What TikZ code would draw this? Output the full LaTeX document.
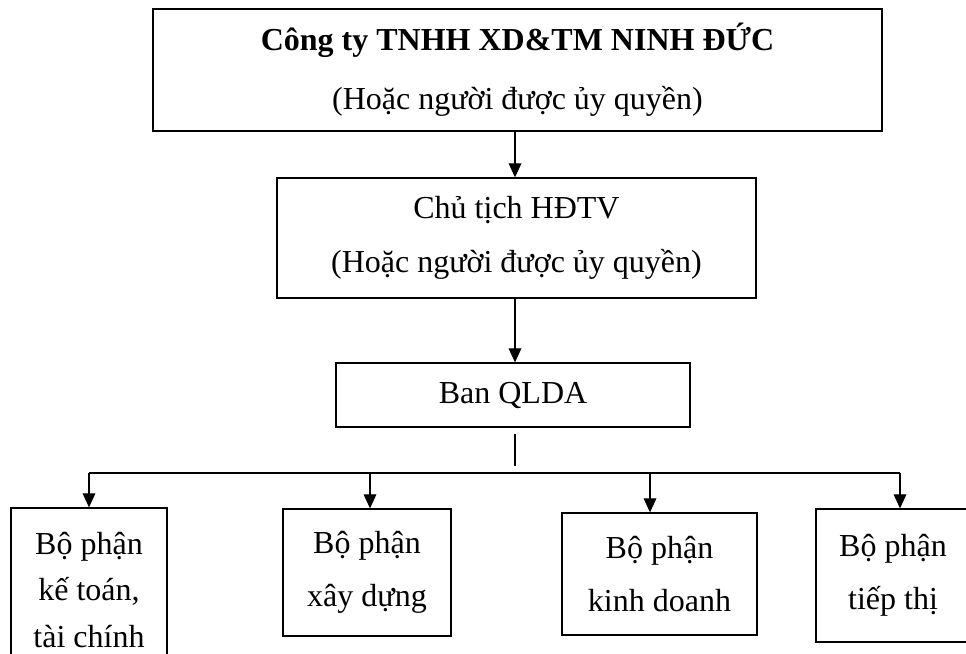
\documentclass[tikz,border=0pt]{standalone}
\usepackage{fontspec}
\setmainfont{Liberation Serif}
\usetikzlibrary{
  arrows.meta,
  calc
}
\tikzset{
  unit/.style={
    draw,
    line width=1pt,
    align=center,
    inner sep=0pt,
    font=\fontsize{24}{40}\selectfont},
  link/.style={
    -{Triangle[length=10.5pt,width=9.5pt]},
    line width=0.9pt}
  }

\begin{document}
\begin{tikzpicture}[x=0.75pt,y=-0.75pt]
      \clip (0,0) rectangle (966,653);
      \node [unit, minimum width=546.75pt, minimum height=91.5pt] (cty) at (517.5,70)
        {\textbf{Công ty TNHH XD\&TM NINH ĐỨC}\\[4pt](Hoặc người được ủy quyền)};
      \node [unit, minimum width=359.25pt, minimum height=90pt] (chutich) at (516.5,238)
        {Chủ tịch HĐTV\\(Hoặc người được ủy quyền)};
      \node [unit, minimum width=265.5pt, minimum height=48pt] (ban) at (513,395) {Ban QLDA};
      \node [unit, minimum width=117pt, minimum height=123pt,
        font=\fontsize{24}{35}\selectfont] (ketoan) at (89,590)
        {Bộ phận\\kế toán,\\tài chính};
      \node [unit, minimum width=126pt, minimum height=95.25pt] (xaydung) at (367,572.5)
        {Bộ phận\\xây dựng};
      \node [unit, minimum width=146.25pt, minimum height=91.5pt] (kinhdoanh) at (659.5,574)
        {Bộ phận\\kinh doanh};
      \node [unit, minimum width=115.5pt, minimum height=99.75pt] (tiepthi) at (893,575.5)
        {Bộ phận\\tiếp thị};
      \coordinate (stemtop) at (515,434);
      \coordinate (stembot) at (515,466);
      \coordinate (a1) at (89,473);
      \coordinate (a2) at (370,473);
      \coordinate (a3) at (650,473);
      \coordinate (a4) at (900,473);
      \draw [link] (cty.south -| 515,0) to (chutich.north -| 515,0);
      \draw [link] (chutich.south -| 515,0) to (ban.north -| 515,0);
      \draw [line width=0.9pt] (stemtop) to (stembot);
      \draw [line width=1.2pt] (a1) to (a4);
      \draw [link] (a1) to (a1 |- ketoan.north);
      \draw [link] (a2) to (a2 |- xaydung.north);
      \draw [link] (a3) to (a3 |- kinhdoanh.north);
      \draw [link] (a4) to (a4 |- tiepthi.north);
    \end{tikzpicture}
\end{document}
